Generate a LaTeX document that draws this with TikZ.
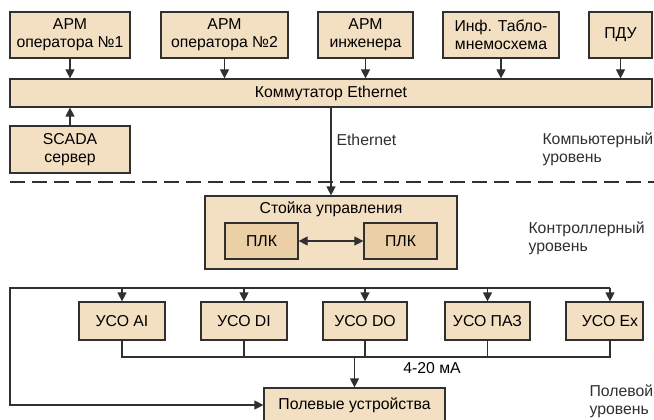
\documentclass[tikz,border=0pt]{standalone}
\usepackage{fontspec}
\setmainfont{Liberation Sans}
\usetikzlibrary{arrows.meta}
\definecolor{boxfill}{HTML}{F3DFC2}
\definecolor{plcfill}{HTML}{EBCFA6}
\definecolor{linegray}{HTML}{303030}

\begin{document}
\begin{tikzpicture}[x=1pt,y=-1pt,font=\fontsize{15.8pt}{18pt}\selectfont,
  box/.style={draw=linegray,fill=boxfill,line width=1.2pt,inner sep=0pt,align=center},
  plcbox/.style={box,fill=plcfill,minimum width=73pt,minimum height=36pt},
  usobox/.style={box,minimum height=38pt},
  lvl/.style={anchor=west,align=left,text=linegray},
  link/.style={draw=linegray,line width=1.2pt},
  arr/.style={link,-{Triangle[width=9pt,length=9pt]}},
  dblarr/.style={link,{Triangle[width=9pt,length=9pt]}-{Triangle[width=9pt,length=9pt]}}]
  \useasboundingbox (0,0) rectangle (654,420);
  \begin{scope}
    \clip (0,0) rectangle (654,420);
    \fill[white] (0,0) rectangle (654,420);

    \node[box,minimum width=120pt,minimum height=46pt] (arm1) at (70,35) {АРМ\\оператора №1};
    \node[box,minimum width=127pt,minimum height=46pt] (arm2) at (224.5,35) {АРМ\\оператора №2};
    \node[box,minimum width=95pt,minimum height=46pt] (arm3) at (365.5,35) {АРМ\\инженера};
    \node[box,minimum width=116pt,minimum height=46pt] (tablo) at (501,35) {Инф. Табло-\\мнемосхема};
    \node[box,minimum width=63pt,minimum height=46pt] (pdu) at (620.5,35) {ПДУ};
    \node[box,minimum width=642pt,minimum height=28pt] (bar) at (331,93) {Коммутатор Ethernet};
    \node[box,minimum width=120pt,minimum height=47pt] (scada) at (70,149.5) {SCADA\\сервер};
    \foreach \t in {arm1,arm2,arm3,tablo,pdu}
      \draw[arr] (\t.south) -- (\t.south |- bar.north);
    \draw[arr] (scada.north) -- (scada.north |- bar.south);

    \node[lvl] (ethlbl) at (333,140) {Ethernet};
    \node[lvl] (lvlpc) at (539,149) {Компьютерный\\уровень};
    \draw[link,dash pattern=on 15pt off 7pt] (10,182) -- (654,182);

    \node[box,minimum width=252pt,minimum height=73pt] (stoika) at (331,232.5) {};
    \node (stoikattl) at (331,209) {Стойка управления};
    \node[plcbox] (plc1) at (261.5,241) {ПЛК};
    \node[plcbox] (plc2) at (400.5,241) {ПЛК};
    \draw[arr] (bar.south) -- (stoika.north);
    \draw[dblarr] (plc1) -- (plc2);
    \node[lvl] (lvlctl) at (525,238) {Контроллерный\\уровень};

    \node[usobox,minimum width=86pt] (usoai) at (122,321) {УСО AI};
    \node[usobox,minimum width=86pt] (usodi) at (244,321) {УСО DI};
    \node[usobox,minimum width=84pt] (usodo) at (365,321) {УСО DO};
    \node[usobox,minimum width=85pt] (usopaz) at (487.5,321) {УСО ПАЗ};
    \node[usobox,minimum width=77pt] (usoex) at (604.5,321) {\hspace*{11pt}УСО Ex};
    \node[box,minimum width=181pt,minimum height=34pt] (polevye) at (354.5,405) {Полевые устройства};
    \coordinate (exin) at ([xshift=5.5pt]usoex.north);
    \coordinate (exout) at ([xshift=5.5pt]usoex.south);
    \coordinate (loopnw) at (10,288);
    \coordinate (loopsw) at (loopnw |- polevye.west);
    \coordinate (busy) at (0,357);

    \draw[arr] (exin |- loopnw) -- (loopnw) -- (loopsw) -- (polevye.west);
    \foreach \u in {usoai,usodi,usodo,usopaz}
      \draw[arr] (\u.north |- loopnw) -- (\u.north);
    \draw[arr] (exin |- loopnw) -- (exin);
    \draw[link] (usoai.south) -- (usoai.south |- busy) -- (exout |- busy) -- (exout);
    \foreach \u in {usodi,usodo,usopaz}
      \draw[link] (\u.south) -- (\u.south |- busy);
    \draw[arr] (polevye.north |- busy) -- (polevye.north);
    \node (buslbl) at (432,368) {4-20 мА};
    \node[lvl] (lvlfld) at (586,401) {Полевой\\уровень};
  \end{scope}
\end{tikzpicture}
\end{document}
